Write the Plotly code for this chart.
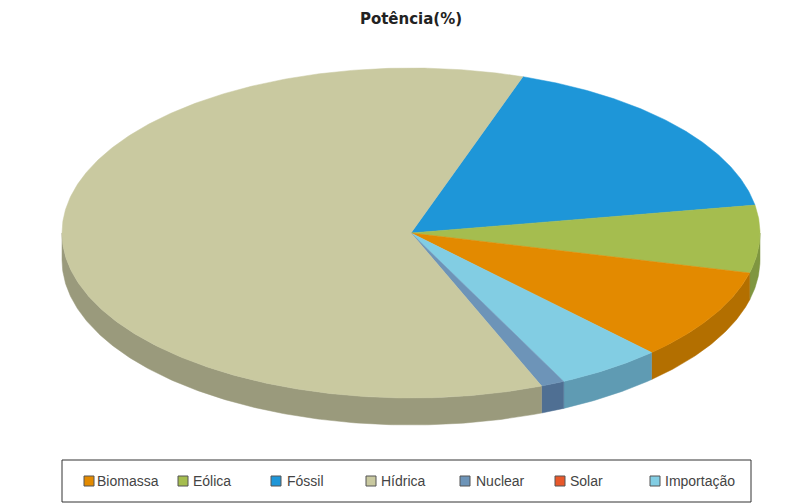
import numpy as np
import plotly.graph_objects as go

# Data (clockwise from the start angle, in percent)
categories = ["Fóssil", "Eólica", "Biomassa", "Solar", "Importação", "Nuclear", "Hídrica"]
values = [17.1, 6.6, 9.0, 0.0, 4.9, 1.1, 61.3]
top_colors = ["#1e96d8", "#a5bd4f", "#e38a00", "#e8582a", "#82cde3", "#6d94b8", "#c9c9a0"]
side_colors = ["#16709f", "#7f9640", "#b36f00", "#ad4120", "#5f9bb3", "#4f6f93", "#9a9a7c"]
legend_order = ["Biomassa", "Eólica", "Fóssil", "Hídrica", "Nuclear", "Solar", "Importação"]
legend_swatch_px = [76, 170, 263, 358, 452, 547, 642]
legend_label_px = [87, 183, 277, 371, 466, 560, 655]

# The page has an 8 px body margin, so the figure is laid out in a 780x496 box.
W, H = 780, 496
CX, CY, RX, RY, DEPTH = 403, 225, 349, 165, 27
START_DEG = 71.3

fig = go.Figure()


def arc(t0, t1):
    n = max(2, int(abs(t1 - t0) * 2) + 2)
    return np.radians(np.linspace(t0, t1, n))


wedges = []
t = START_DEG
for c, v, top, side in zip(categories, values, top_colors, side_colors):
    t1 = t - v * 3.6
    wedges.append((c, t, t1, top, side))
    t = t1

# Side walls (visible only on the lower half of the ellipse)
for c, t0, t1, top, side in wedges:
    for lo, hi in [(-180, 0), (-540, -360)]:
        a, b = max(t1, lo), min(t0, hi)
        if b <= a:
            continue
        th = arc(b, a)
        x = np.cos(th)
        y = np.sin(th)
        xs = np.concatenate([x, x[::-1], x[:1]])
        ys = np.concatenate([y, y[::-1] - DEPTH / RY, y[:1]])
        fig.add_trace(go.Scatter(x=xs, y=ys, mode="lines", fill="toself", fillcolor=side,
                                 line=dict(color=side, width=0.5), name=c,
                                 showlegend=False, hoverinfo="name"))

# Top surfaces
for c, t0, t1, top, side in wedges:
    if t0 == t1:
        continue
    th = arc(t0, t1)
    xs = np.concatenate([[0], np.cos(th), [0]])
    ys = np.concatenate([[0], np.sin(th), [0]])
    fig.add_trace(go.Scatter(x=xs, y=ys, mode="lines", fill="toself", fillcolor=top,
                             line=dict(color=top, width=0.5), name=c,
                             showlegend=False, hoverinfo="name"))

shapes = [dict(type="rect", xref="paper", yref="paper",
               x0=54 / W, x1=743 / W, y0=1 - 494 / H, y1=1 - 452 / H,
               line=dict(color="#333333", width=1), fillcolor="white", layer="above")]
annotations = []
color_of = dict(zip(categories, top_colors))
for name, sx, lx in zip(legend_order, legend_swatch_px, legend_label_px):
    shapes.append(dict(type="rect", xref="paper", yref="paper",
                       x0=sx / W, x1=(sx + 10) / W, y0=1 - 478 / H, y1=1 - 468 / H,
                       line=dict(color="#555555", width=1), fillcolor=color_of[name], layer="above"))
    annotations.append(dict(text=name, xref="paper", yref="paper", x=lx / W, y=1 - 473 / H,
                            xanchor="left", yanchor="middle", showarrow=False,
                            font=dict(family="Liberation Sans", size=14, color="#444444")))

fig.update_layout(
    width=W, height=H, margin=dict(l=0, r=0, t=0, b=0),
    paper_bgcolor="white", plot_bgcolor="white", showlegend=False,
    title=dict(text="<b>Potência(%)</b>", x=403 / W, xanchor="center", y=1 - 11 / H, yanchor="middle",
               font=dict(family="DejaVu Sans", size=15, color="#222222")),
    xaxis=dict(range=[-CX / RX, (W - CX) / RX], visible=False, fixedrange=True),
    yaxis=dict(range=[(CY - H) / RY, CY / RY], visible=False, fixedrange=True),
    shapes=shapes, annotations=annotations,
)
fig.write_html("out.html", config=dict(displayModeBar=False))
